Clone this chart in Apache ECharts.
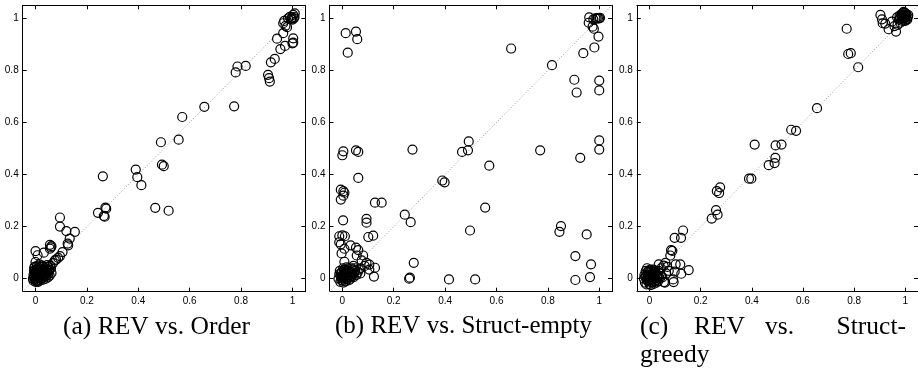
<!DOCTYPE html>
<html>
<head>
<meta charset="utf-8">
<script src="https://cdn.jsdelivr.net/npm/echarts@6/dist/echarts.min.js"></script>
<style>
html,body{margin:0;padding:0;background:#fff;}
#chart{width:918px;height:375px;}
</style>
</head>
<body>
<div id="chart"></div>
<script>
// ---- data ----
const tickValues = [0, 0.2, 0.4, 0.6, 0.8, 1];
const axisRange = [-0.05, 1.05];
const captions = ['(a) REV vs. Order', '(b) REV vs. Struct-empty', '(c) REV vs. Struct-greedy'];

const orderPts = [
  [1.003,1.013],[1.009,1.019],[1.005,1.0],[0.998,1.003],[0.99,1.006],[0.983,1.0],[0.995,0.998],[1.0,0.995],[1.008,1.005],
  [0.979,0.966],[0.973,0.971],[0.964,0.981],[0.968,0.99],[0.964,0.943],[0.971,0.894],[0.953,0.882],[0.94,0.922],
  [0.931,0.844],[0.916,0.831],[0.905,0.783],[0.909,0.77],[0.912,0.757],[1.003,0.923],[1.003,0.907],[1.0,0.904],
  [0.818,0.817],[0.786,0.815],[0.779,0.792],[0.773,0.662],[0.657,0.66],[0.571,0.621],[0.557,0.534],[0.488,0.524],
  [0.492,0.438],[0.499,0.432],[0.466,0.272],[0.518,0.261],[0.39,0.419],[0.396,0.39],[0.412,0.359],[0.262,0.393],
  [0.243,0.253],[0.269,0.238],[0.266,0.241],[0.275,0.269],[0.272,0.273],
  [0.095,0.235],[0.095,0.2],[0.12,0.183],[0.153,0.18],[0.133,0.154],[0.127,0.128],[0.125,0.135],[0.056,0.13],
  [0.062,0.125],[0.056,0.115],[0.06,0.12],[0,0.106],[0.008,0.09],[0,0.064],[0.032,0.1],[0.105,0.102],[0.095,0.087],
  [0.08,0.073],[0.068,0.06],[0.058,0.05],[0.075,0.07],[0.088,0.08],[0.04,0.04],[0.05,0.045],[0.045,0.052],
  [0.035,0.03],[0.03,0.045],[0.025,0.02],[0.02,0.035],[0.015,0.01],[0.01,0.025],[0.005,0.005],[0,0],[-0.005,0.01],
  [0.002,-0.008],[0.01,-0.005],[0.018,0.0],[0.022,0.012],[0.008,0.015],[-0.003,0.02],[0.003,0.03],[0.012,0.04],
  [0.028,0.028],[0.038,0.015],[0.045,0.025],[0.055,0.035],[0.05,0.02],[0.015,0.055],[-0.002,-0.003],[0.006,-0.01],
  [0.0,0.012],[-0.004,0.045],[0.0,0.035],
  [-0.01,0.0],[-0.008,0.015],[-0.006,0.03],[0.0,0.022],[0.004,0.008],[0.007,0.02],[0.012,0.005],[0.014,0.018],
  [0.018,0.028],[0.02,0.008],[0.024,0.015],[0.027,0.004],[0.03,0.022],[0.033,0.035],[0.036,0.008],[0.04,0.025],
  [0.042,0.012],[0.046,0.035],[0.048,0.005],[0.052,0.03],[0.055,0.012],[0.06,0.04],[0.062,0.022],[0.01,0.035],
  [0.016,0.045],[0.025,0.05],[0.005,0.048],[-0.005,0.04],[0.0,-0.012],[0.01,-0.012],[0.02,-0.006],[0.03,-0.004],
  [0.04,0.0],[-0.008,-0.008]
];

const emptyPts = [
  [0.961,1.004],[0.959,0.983],[0.974,0.968],[0.979,0.96],[0.977,0.996],[0.985,1.0],[0.99,1.0],[0.995,1.0],[1.0,1.0],
  [1.003,1.002],[0.997,0.93],[0.981,0.888],[0.938,0.866],[0.816,0.82],[0.657,0.884],[0.903,0.764],[0.912,0.715],
  [1.0,0.761],[1.0,0.723],[1.0,0.531],[1.0,0.496],[0.926,0.464],[0.77,0.493],[0.851,0.202],[0.845,0.18],[0.951,0.17],
  [0.907,0.087],[0.907,-0.005],[0.968,0.055],[0.964,0.006],
  [0.572,0.434],[0.556,0.273],[0.517,-0.003],[0.497,0.185],[0.492,0.527],[0.489,0.493],[0.466,0.487],[0.415,-0.003],
  [0.389,0.377],[0.398,0.37],[0.243,0.246],[0.266,0.217],[0.273,0.496],[0.278,0.061],[0.263,0.004],[0.26,0.0],
  [0.013,0.943],[0.053,0.949],[0.058,0.92],[0.021,0.868],[0.004,0.489],[0,0.474],[0.053,0.493],[0.062,0.487],
  [0.062,0.387],[-0.006,0.342],[0.004,0.336],[0.008,0.33],[0.004,0.319],[-0.006,0.304],[0.003,0.224],[0.127,0.292],
  [0.153,0.292],[0.094,0.23],[0.094,0.215],[0.101,0.16],[0.12,0.165],[-0.012,0.163],[-0.012,0.14],[-0.006,0.132],
  [0,0.166],[0.01,0.163],[0.008,0.115],[-0.003,0.097],[0.032,0.128],[0.053,0.119],[0.062,0.11],[0.056,0.089],
  [0.081,0.089],[0.075,0.07],[0.094,0.061],[0.105,0.054],[0.127,0.042],[0.123,0.008],[0.087,0.049],[0.043,0.049],
  [0.008,0.065],[0.105,0.035],[0.07,0.04],
  [0,0],[0.005,0.005],[0.01,0.0],[0.015,0.01],[0.02,0.02],[0.025,0.03],[0.03,0.015],[0.035,0.025],[0.04,0.035],
  [0.045,0.02],[0.05,0.03],[0.055,0.015],[0.06,0.025],[0.0,0.015],[-0.005,0.005],[0.008,0.025],[0.012,0.035],
  [0.002,-0.008],[-0.004,-0.005],[0.018,-0.002],[0.028,0.005],[0.038,0.01],[0.048,0.04],[0.022,0.04],[0.003,0.04],
  [0.065,0.035],[0.07,0.02],
  [-0.015,0.0],[-0.012,0.018],[-0.01,0.03],[-0.008,-0.012],[-0.002,0.025],[0.004,-0.015],[0.006,0.012],[0.01,0.02],
  [0.013,-0.01],[0.016,0.03],[0.02,0.005],[0.024,0.012],[0.028,0.022],[0.032,0.0],[0.036,0.04],[0.04,0.018],
  [0.044,0.006],[0.017,0.044],[0.007,0.035],[-0.006,0.02],[0.0,0.008],[0.026,-0.006],[0.035,0.012]
];

const greedyPts = [
  [0.903,1.013],[0.909,0.996],[0.912,0.981],[0.922,0.98],[0.935,0.958],[0.964,0.949],[0.948,0.987],[0.968,1.004],
  [0.981,0.983],[0.987,1.006],[0.975,0.995],[0.99,0.998],[0.993,1.008],[0.996,1.0],[1.0,1.005],[1.003,1.01],
  [1.005,0.998],[0.998,0.992],[0.985,1.01],[0.958,0.97],[0.97,0.975],
  [0.98,1.0],[0.985,1.015],[0.99,1.02],[0.995,1.012],[1.0,1.02],[1.005,1.015],[1.01,1.005],[1.008,0.995],
  [0.99,0.99],[0.978,1.01],[1.0,0.99],[1.012,1.012],[0.994,1.025],
  [0.771,0.96],[0.777,0.863],[0.787,0.866],[0.816,0.812],[0.655,0.655],[0.554,0.572],[0.573,0.568],[0.411,0.515],
  [0.493,0.512],[0.516,0.515],[0.492,0.464],[0.489,0.444],[0.466,0.436],[0.389,0.384],[0.398,0.384],[0.276,0.351],
  [0.263,0.336],[0.272,0.329],[0.26,0.263],[0.266,0.246],[0.243,0.231],
  [0.131,0.185],[0.098,0.157],[0.123,0.157],[0.084,0.11],[0.089,0.107],[0.081,0.089],[0.12,0.055],[0.102,0.055],
  [0.153,0.033],[0.098,0.027],[0.124,0.019],[0.092,-0.003],[0.094,-0.013],[0.056,-0.013],[0.06,-0.015],[0.036,0.055],
  [0.062,0.061],[0.069,0.045],[0.055,0.05],[0.045,0.04],[0.075,0.03],[0.065,0.02],[0.05,0.005],[0.04,0.02],
  [0,0],[-0.005,-0.01],[-0.01,0.005],[0.005,0.015],[0.01,-0.005],[0.015,0.01],[0.02,0.0],[0.025,0.02],[0.03,0.005],
  [0.035,0.03],[-0.008,0.025],[-0.005,0.03],[0.0,-0.02],[0.005,-0.025],[0.012,-0.015],[0.02,-0.01],[-0.002,0.012],
  [0.008,0.03],[0.018,0.025],[0.028,-0.005],[0.04,0.0],[0.045,0.01],[-0.01,-0.005],[0.0,0.025],[0.015,0.035],
  [-0.022,0.0],[-0.02,0.015],[-0.018,-0.015],[-0.015,0.03],[-0.012,-0.022],[-0.006,0.012],[-0.003,-0.005],
  [0.003,0.005],[0.007,-0.012],[0.011,0.02],[0.016,-0.02],[0.022,0.03],[0.026,-0.015],[0.03,0.015],[0.033,-0.01],
  [-0.015,0.01],[0.003,0.035],[-0.01,0.04],[0.018,0.005],[0.01,0.01]
];

// ---- chart ----
const panels = [orderPts, emptyPts, greedyPts];
const gridBoxes = [
  {left: 22.7, top: 5.3, width: 282.6, height: 286.4},
  {left: 329.5, top: 5.3, width: 282.6, height: 286.4},
  {left: 636.8, top: 5.3, width: 282.6, height: 286.4}
];

function makeAxis(dim, gridIndex, position, showLabel) {
  return {
    type: 'value', gridIndex, position,
    min: axisRange[0], max: axisRange[1],
    axisLine: {show: true, onZero: false, lineStyle: {color: '#000', width: 1}},
    axisTick: {show: true, inside: true, length: 4, customValues: tickValues, lineStyle: {color: '#000', width: 1}},
    axisLabel: {show: showLabel, customValues: tickValues, fontFamily: 'Liberation Sans, Arial, sans-serif',
      fontSize: 10, color: '#000', margin: dim === 'x' ? 5 : 4},
    splitLine: {show: false}
  };
}

const xAxes = [], yAxes = [], series = [];
panels.forEach((pts, i) => {
  xAxes.push(makeAxis('x', i, 'bottom', true));
  xAxes.push(makeAxis('x', i, 'top', false));
  yAxes.push(makeAxis('y', i, 'left', true));
  yAxes.push(makeAxis('y', i, 'right', false));
  series.push({
    type: 'line', xAxisIndex: 2 * i, yAxisIndex: 2 * i,
    data: [[axisRange[0], axisRange[0]], [axisRange[1], axisRange[1]]],
    symbol: 'none', silent: true, z: 1,
    lineStyle: {color: '#9a9a9a', width: 1, type: [1, 2]}
  });
  series.push({
    type: 'scatter', xAxisIndex: 2 * i, yAxisIndex: 2 * i,
    data: pts, symbol: 'circle', symbolSize: 9, z: 2,
    itemStyle: {color: 'rgba(0,0,0,0)', borderColor: '#000', borderWidth: 1.2, opacity: 1}
  });
});

const capFont = '25.5px "Liberation Serif", "Times New Roman", serif';
const capWords = captions[2].replace('Struct-greedy', 'Struct- greedy').split(' ');
const graphics = [
  {type: 'text', left: 63, top: 314, style: {text: captions[0], font: capFont, fill: '#000'}},
  {type: 'text', left: 335, top: 314, style: {text: captions[1], font: '25px "Liberation Serif", serif', fill: '#000'}},
  {type: 'text', left: 640, top: 314, style: {text: capWords[0], font: capFont, fill: '#000'}},
  {type: 'text', left: 694, top: 314, style: {text: capWords[1], font: capFont, fill: '#000'}},
  {type: 'text', left: 765, top: 314, style: {text: capWords[2], font: capFont, fill: '#000'}},
  {type: 'text', right: 12, top: 314, style: {text: capWords[3], font: capFont, fill: '#000'}},
  {type: 'text', left: 640, top: 342, style: {text: capWords[4], font: capFont, fill: '#000'}}
];

const chart = echarts.init(document.getElementById('chart'), null, {renderer: 'canvas'});
chart.setOption({
  animation: false,
  backgroundColor: '#fff',
  grid: gridBoxes.map(g => Object.assign({containLabel: false}, g)),
  xAxis: xAxes,
  yAxis: yAxes,
  series: series,
  graphic: graphics
});
</script>
</body>
</html>
